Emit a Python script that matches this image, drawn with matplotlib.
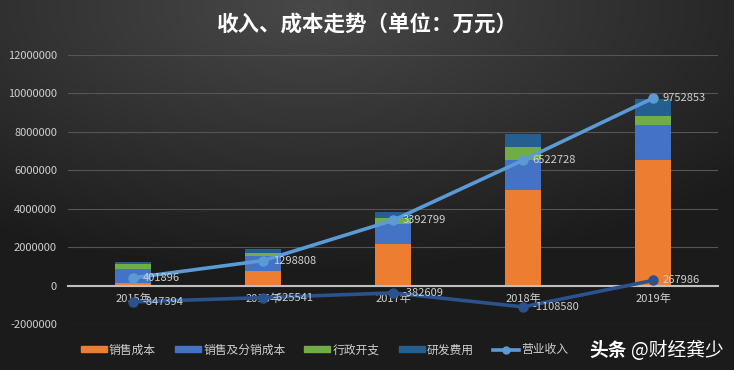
import numpy as np
import matplotlib
matplotlib.use("Agg")
from matplotlib import pyplot as plt
from matplotlib.patches import Patch
from matplotlib.lines import Line2D

plt.rcParams['font.family'] = ['Noto Sans CJK SC', 'DejaVu Sans']

# data (万元)
years = ['2015年', '2016年', '2017年', '2018年', '2019年']
sales_cost = [140000, 743000, 2180000, 4990000, 6510000]      # 销售成本
dist_cost = [727000, 779000, 1040000, 1560000, 1850000]       # 销售及分销成本
admin_cost = [277000, 177000, 296000, 640000, 468000]         # 行政开支
rd_cost = [104000, 225000, 291000, 693000, 883000]            # 研发费用
revenue = [401896, 1298808, 3392799, 6522728, 9752853]        # 营业收入
profit = [-847394, -625541, -382609, -1108580, 267986]        # (legend entry hidden by watermark)

c_orange = '#ED7D31'
c_blue = '#4472C4'
c_green = '#70AD47'
c_dblue = '#255E91'
c_rev = '#5B9BD5'
c_profit = '#2A528C'
txt = '#d0d0d0'

fig = plt.figure(figsize=(7.34, 3.70), dpi=100)

# radial dark background
bg = fig.add_axes([0, 0, 1, 1], zorder=-10)
yy, xx = np.mgrid[0:1:370j, 0:1:734j]
r = np.sqrt(((xx - 0.42) / 1.0) ** 2 + ((yy - 0.02) / 0.9) ** 2)
r = np.clip(r / 0.8, 0, 1)
top = np.array([0x48, 0x48, 0x48]) / 255
edge = np.array([0x1b, 0x1b, 0x1b]) / 255
img = top[None, None, :] * (1 - r[..., None]) + edge[None, None, :] * r[..., None]
bg.imshow(img, aspect='auto', extent=[0, 1, 0, 1], origin='upper')
bg.axis('off')

ax = fig.add_axes([68 / 734, 1 - 324 / 370, 650 / 734, (324 - 55) / 370])
ax.set_facecolor('none')

x = np.arange(len(years))
w = 0.27
b1 = np.array(sales_cost)
b2 = b1 + np.array(dist_cost)
b3 = b2 + np.array(admin_cost)
ax.bar(x, sales_cost, w, color=c_orange, zorder=2)
ax.bar(x, dist_cost, w, bottom=b1, color=c_blue, zorder=2)
ax.bar(x, admin_cost, w, bottom=b2, color=c_green, zorder=2)
ax.bar(x, rd_cost, w, bottom=b3, color=c_dblue, zorder=2)

ax.plot(x, revenue, color=c_rev, lw=2.6, marker='o', ms=6.5, zorder=4)
ax.plot(x, profit, color=c_profit, lw=2.6, marker='o', ms=6.5, zorder=4)

for xi, v in zip(x, revenue):
    ax.annotate(str(v), (xi, v), xytext=(7, 0), textcoords='offset points',
                va='center', ha='left', color=txt, fontsize=8, zorder=5)
for xi, v in zip(x, profit):
    ax.annotate(str(v), (xi, v), xytext=(7, 0), textcoords='offset points',
                va='center', ha='left', color=txt, fontsize=8, zorder=5)

ax.set_xlim(-0.5, 4.5)
ax.set_ylim(-2000000, 12000000)
ax.set_yticks(np.arange(-2000000, 12000001, 2000000))
ax.set_yticklabels([str(v) for v in range(-2000000, 12000001, 2000000)])
ax.set_xticks(x)
ax.set_xticklabels(years)
ax.grid(axis='y', color='#555555', lw=0.8, zorder=0)
ax.set_axisbelow(True)
for s in ['top', 'right', 'left']:
    ax.spines[s].set_visible(False)
ax.spines['bottom'].set_position(('data', 0))
ax.spines['bottom'].set_color('#bfbfbf')
ax.spines['bottom'].set_linewidth(1.5)
ax.tick_params(axis='both', length=0, colors=txt, labelsize=8)
ax.tick_params(axis='y', pad=8)
ax.tick_params(axis='x', pad=6)

fig.text(0.5, 1 - 25 / 370, '收入、成本走势（单位：万元）', ha='center', va='center',
         color='white', fontsize=15.5, fontweight='bold')

handles = [Patch(color=c_orange), Patch(color=c_blue), Patch(color=c_green),
           Patch(color=c_dblue),
           Line2D([], [], color=c_rev, lw=2.6, marker='o', ms=5)]
labels = ['销售成本', '销售及分销成本', '行政开支', '研发费用', '营业收入']
leg = fig.legend(handles, labels, ncol=5, loc='center left',
                 bbox_to_anchor=(70 / 734, 1 - 350 / 370), frameon=False,
                 fontsize=8.5, handlelength=2.2, handleheight=0.45,
                 handletextpad=0.2, columnspacing=1.6, labelcolor=txt)

fig.text(589 / 734, 1 - 350 / 370, '头条', ha='left', va='center', color='white',
         fontsize=13.5, fontweight='bold')
fig.text(631 / 734, 1 - 350 / 370, '@财经龚少', ha='left', va='center', color='white',
         fontsize=13.5)

fig.savefig('out.png', dpi=100)
